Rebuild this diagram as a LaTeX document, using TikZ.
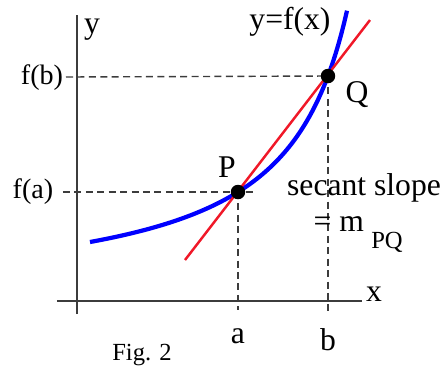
\documentclass[tikz,border=0pt]{standalone}
\usepackage{fontspec}
\setmainfont{Liberation Serif}
\usetikzlibrary{positioning}
\definecolor{cblue}{HTML}{0000FF}
\definecolor{cred}{HTML}{F01828}
\definecolor{cgrey}{HTML}{3C3C3C}
\tikzset{
  every picture/.style={line width=0.9pt},
  axis/.style={draw=cgrey, line width=0.9pt},
  guide/.style={draw=cgrey, line width=0.8pt, dash pattern=on 4pt off 2.5pt},
  dot/.style={circle, fill=black, inner sep=0pt, minimum size=0.29cm},
  lbl/.style={font=\fontsize{18}{20}\selectfont, inner sep=1pt},
  tick/.style={font=\fontsize{16}{18}\selectfont, inner sep=1pt},
}

\begin{document}
\begin{tikzpicture}[x=0.02cm, y=-0.02cm,
  curve/.style={draw=cblue, line width=2.4pt},
  secant/.style={draw=cred, line width=1.4pt},
  small/.style={font=\fontsize{14}{16}\selectfont, inner sep=1pt}]
  \useasboundingbox (0,0) rectangle (444,370);
  % axes
  \coordinate (ytop) at (77,15);
  \coordinate (ybot) at (77,314);
  \coordinate (xleft) at (57,301);
  \coordinate (xright) at (362,301);
  \draw[axis] (ybot) -- (ytop);
  \draw[axis] (xleft) -- (xright);
  \node[lbl] (ylab) at (92,30) {y};
  \node[lbl] (xlab) at (374,294) {x};
  % points and guide lines
  \coordinate (P) at (238,192);
  \coordinate (Q) at (328,76);
  \coordinate (fa) at (63,192);
  \coordinate (fb) at (66,77);
  \coordinate (pend) at (256,192);
  \coordinate (pfoot) at (238,310);
  \coordinate (qfoot) at (328,313);
  \draw[guide] (fa) -- (pend);
  \draw[guide] (fb) -- (Q);
  \draw[guide] (P) -- (pfoot);
  \draw[guide] (Q) -- (qfoot);
  % curve and secant
  \draw[curve] plot[domain=90:347, samples=90] (\x, {300.95 - 190.12/(4.125 - \x/100)});
  \coordinate (sa) at (185,260);
  \coordinate (sb) at (370,20);
  \draw[secant] (sa) -- (sb);
  \node[dot] (Pdot) at (P) {};
  \node[dot] (Qdot) at (Q) {};
  % labels
  \node[lbl] (Plab) at (227,167) {P};
  \node[lbl] (Qlab) at (357,95) {Q};
  \node[tick] (falab) at (33,192) {f(a)};
  \node[tick] (fblab) at (42,78) {f(b)};
  \node[lbl] (alab) at (238,336) {a};
  \node[lbl] (blab) at (328,340) {b};
  \node[lbl] (flab) at (290,22) {y=f(x)};
  \node[lbl] (slope) at (364,188) {secant slope};
  \node[lbl, anchor=west] (mpq) at (311,224) {= m};
  \node[small] (pq) at (387,242) {PQ};
  \node[small] (fig) at (142,355) {Fig. 2};
\end{tikzpicture}
\end{document}
